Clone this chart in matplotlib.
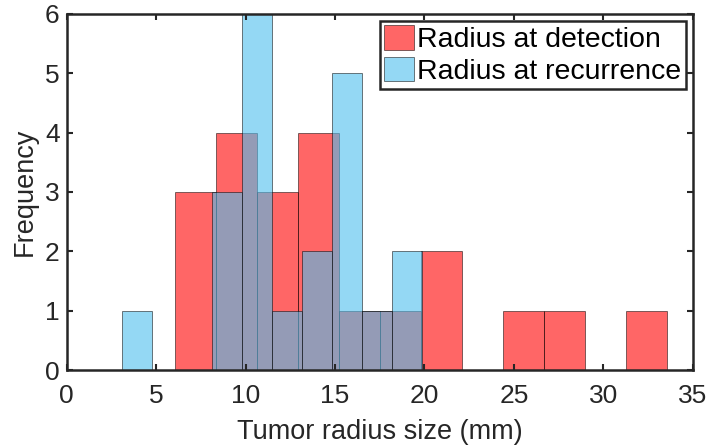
import numpy as np
import matplotlib
matplotlib.use('Agg')
import matplotlib.pyplot as plt

plt.rcParams['font.family'] = ['Liberation Sans', 'DejaVu Sans']

# ============ DATA ============
# bin edges and counts
detect_edges = [6.07, 8.36, 10.65, 12.94, 15.23, 17.52, 19.81, 22.10,
                24.39, 26.68, 28.97, 31.26, 33.55]
detect_counts = [3, 4, 3, 4, 1, 1, 2, 0, 1, 1, 0, 1]

recur_edges = [3.10, 4.775, 6.45, 8.125, 9.80, 11.475, 13.15, 14.825,
               16.50, 18.175, 19.85]
recur_counts = [1, 0, 0, 3, 6, 1, 2, 5, 1, 2]

labels = ['Radius at detection', 'Radius at recurrence']
xticks = [0, 5, 10, 15, 20, 25, 30, 35]
yticks = [0, 1, 2, 3, 4, 5, 6]

# ============ PLOTTING ============
fig = plt.figure(figsize=(7.09, 4.48), dpi=100)
ax = fig.add_axes([0.094, 0.174, 0.883, 0.795])

red = (1.0, 0.0, 0.0)
blue = (0.30, 0.75, 0.93)
for edges, counts, col, lab in [(detect_edges, detect_counts, red, labels[0]),
                                (recur_edges, recur_counts, blue, labels[1])]:
    e = np.array(edges)
    c = np.array(counts)
    ax.bar(e[:-1], c, width=np.diff(e), align='edge', color=col, alpha=0.6,
           edgecolor='black', linewidth=0.6, label=lab)

ax.set_xlim(0, 35)
ax.set_ylim(0, 6)
ax.set_xticks(xticks)
ax.set_yticks(yticks)
ax.tick_params(direction='in', top=True, right=True, length=4, width=1.5,
               labelsize=19, colors='#262626', pad=5)
ax.tick_params(axis='x', pad=10)
for s in ax.spines.values():
    s.set_linewidth(1.8)
    s.set_color('#262626')

ax.set_xlabel('Tumor radius size (mm)', fontsize=19.5, color='#262626', labelpad=8)
ax.set_ylabel('Frequency', fontsize=19.5, color='#262626', labelpad=5)

leg = ax.legend(loc='upper right', fontsize=20.5, frameon=True, fancybox=False,
                borderpad=0.15, handlelength=1.05, handleheight=0.95,
                handletextpad=0.1, labelspacing=0.12, borderaxespad=0.25)
leg.get_frame().set_edgecolor('#262626')
leg.get_frame().set_linewidth(1.8)
leg.get_frame().set_alpha(1)

fig.savefig('out.png', dpi=100)
